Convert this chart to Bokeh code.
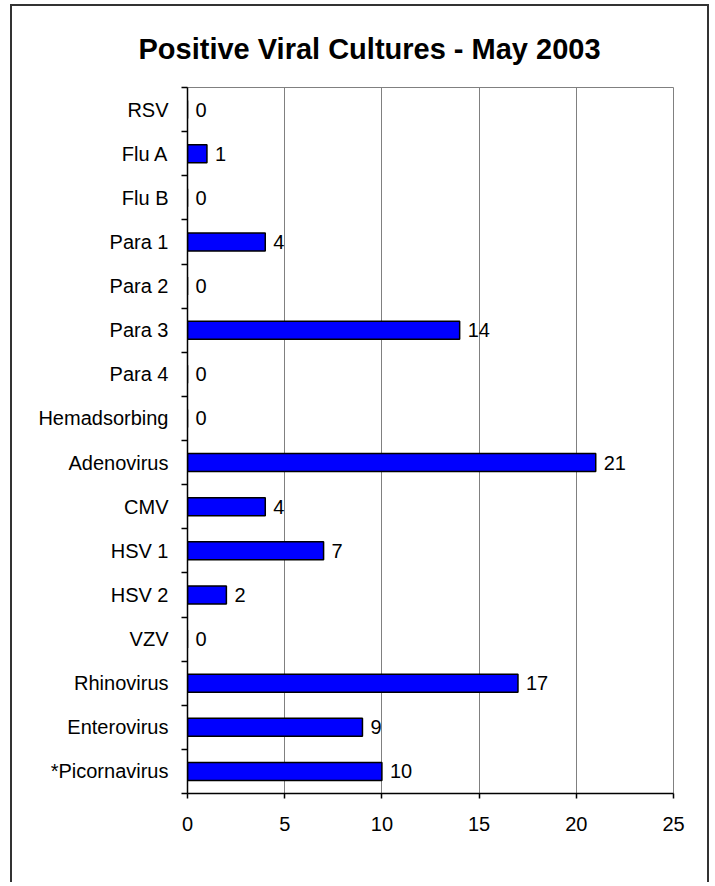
from bokeh.plotting import figure
from bokeh.models import ColumnDataSource, FixedTicker, Range1d, LabelSet
from bokeh.core.properties import value
from bokeh.embed import file_html
from bokeh.resources import INLINE

title_text = "Positive Viral Cultures - May 2003"
categories = ["RSV", "Flu A", "Flu B", "Para 1", "Para 2", "Para 3", "Para 4",
              "Hemadsorbing", "Adenovirus", "CMV", "HSV 1", "HSV 2", "VZV",
              "Rhinovirus", "Enterovirus", "*Picornavirus"]
values = [0, 1, 0, 4, 0, 14, 0, 0, 21, 4, 7, 2, 0, 17, 9, 10]
x_ticks = [0, 5, 10, 15, 20, 25]

FONT = "Liberation Sans"
n = len(categories)
ypos = [n - i - 0.5 for i in range(n)]
bounds = list(range(n + 1))

src = ColumnDataSource(dict(y=ypos, v=values, lbl=[str(v) for v in values], cat=categories))

p = figure(width=699, height=878, output_backend="svg", toolbar_location=None,
           x_range=Range1d(x_ticks[0], x_ticks[-1]), y_range=Range1d(0, n),
           min_border_left=175, min_border_right=38, min_border_top=81, min_border_bottom=91)

p.styles = {"border-top": "2px solid #333", "border-left": "2px solid #333",
            "border-right": "2px solid #333", "margin-left": "10px", "margin-top": "4px"}

p.title.text = title_text
p.title.text_font = FONT
p.title.text_font_size = "29px"
p.title.text_font_style = "bold"
p.title.text_color = "black"
p.title.align = "left"
p.title.offset = -49
p.title.standoff = 45

p.hbar(y="y", left=0, right="v", height=0.41, source=src,
       fill_color="#0000FF", line_color="black", line_width=1.5)

p.add_layout(LabelSet(x="v", y="y", text="lbl", source=src, x_offset=8,
                      text_baseline="middle", text_font=value(FONT),
                      text_font_size=value("20px"), text_color="black"))

# y axis: labels at category centres, ticks at category boundaries
p.yaxis.ticker = FixedTicker(ticks=ypos, minor_ticks=bounds)
p.yaxis.major_label_overrides = {y: c for y, c in zip(ypos, categories)}
p.yaxis.major_tick_line_color = None
p.yaxis.major_tick_out = 0
p.yaxis.major_tick_in = 0
p.yaxis.minor_tick_out = 6
p.yaxis.minor_tick_in = 0
p.yaxis.minor_tick_line_color = "black"
p.yaxis.minor_tick_line_width = 1.5
p.yaxis.major_label_standoff = 13

p.xaxis.ticker = FixedTicker(ticks=x_ticks, minor_ticks=[])
p.xaxis.major_tick_out = 5
p.xaxis.major_tick_in = 0
p.xaxis.major_tick_line_width = 1.5
p.xaxis.major_label_standoff = 18

for ax in (p.xaxis, p.yaxis):
    ax.axis_line_color = "black"
    ax.axis_line_width = 1.5
    ax.major_label_text_font = FONT
    ax.major_label_text_font_size = "20px"
    ax.major_label_text_color = "black"

p.ygrid.visible = False
p.xgrid.ticker = FixedTicker(ticks=x_ticks)
p.xgrid.grid_line_color = "#808080"
p.xgrid.grid_line_width = 1
p.outline_line_color = "#808080"
p.outline_line_width = 1
p.background_fill_color = "white"
p.border_fill_color = "white"

open("out.html", "w").write(file_html(p, INLINE))
